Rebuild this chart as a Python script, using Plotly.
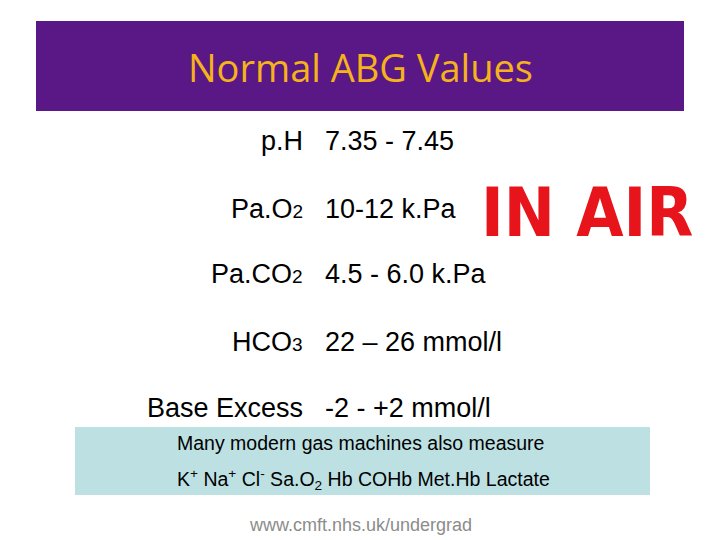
import plotly.graph_objects as go

# Содержимое слайда
title = "Normal ABG Values"
labels = ["p.H", "Pa.O<span style='font-size:19px'>2</span>",
          "Pa.CO<span style='font-size:19px'>2</span>",
          "HCO<span style='font-size:19px'>3</span>", "Base Excess"]
values = ["7.35 - 7.45", "10-12 k.Pa", "4.5 - 6.0 k.Pa", "22 – 26 mmol/l", "-2 - +2 mmol/l"]
rows_y = [141, 209, 274, 342, 408]
note_line1 = "Many modern gas machines also measure"
note_line2 = ("K<sup>+</sup> Na<sup>+</sup> Cl<sup>-</sup> Sa.O<sub>2</sub> "
              "Hb COHb Met.Hb Lactate")
footer = "www.cmft.nhs.uk/undergrad"

fig = go.Figure()

# Фон заголовка и голубая плашка
fig.add_shape(type="rect", x0=36, x1=684, y0=21, y1=111,
              fillcolor="#5A1786", line_width=0, layer="below")
fig.add_shape(type="rect", x0=75, x1=650, y0=427, y1=495,
              fillcolor="#BDE0E3", line_width=0, layer="below")

ann = []
ann.append(dict(x=360, y=67, text=title, showarrow=False,
                font=dict(family="Open Sans", size=38, color="#F5B21B")))
for lab, val, y in zip(labels, values, rows_y):
    ann.append(dict(x=305, y=y, text=lab, xanchor="right", showarrow=False,
                    font=dict(family="Liberation Sans", size=27, color="black")))
    ann.append(dict(x=323, y=y, text=val, xanchor="left", showarrow=False,
                    font=dict(family="Liberation Sans", size=27, color="black")))
ann.append(dict(x=587, y=212, text="<b>IN AIR</b>", showarrow=False,
                font=dict(family="DejaVu Sans Condensed, Liberation Sans", size=68,
                          color="#E8141B")))
ann.append(dict(x=175, y=443, text=note_line1, xanchor="left", showarrow=False,
                font=dict(family="Liberation Sans", size=19.5, color="black")))
ann.append(dict(x=175, y=479, text=note_line2, xanchor="left", showarrow=False,
                font=dict(family="Liberation Sans", size=19.5, color="black")))
ann.append(dict(x=360, y=525, text=footer, showarrow=False,
                font=dict(family="Liberation Sans", size=18, color="#8C8C8C")))
for a in ann:
    a.update(xref="x", yref="y")

# страница сдвигает график на 8px, поэтому диапазоны смещены
fig.update_layout(
    width=720, height=540, margin=dict(l=0, r=0, t=0, b=0),
    paper_bgcolor="white", plot_bgcolor="white", annotations=ann,
    xaxis=dict(range=[8, 728], visible=False, fixedrange=True),
    yaxis=dict(range=[548, 8], visible=False, fixedrange=True),
    showlegend=False,
)

fig.write_html("out.html")
